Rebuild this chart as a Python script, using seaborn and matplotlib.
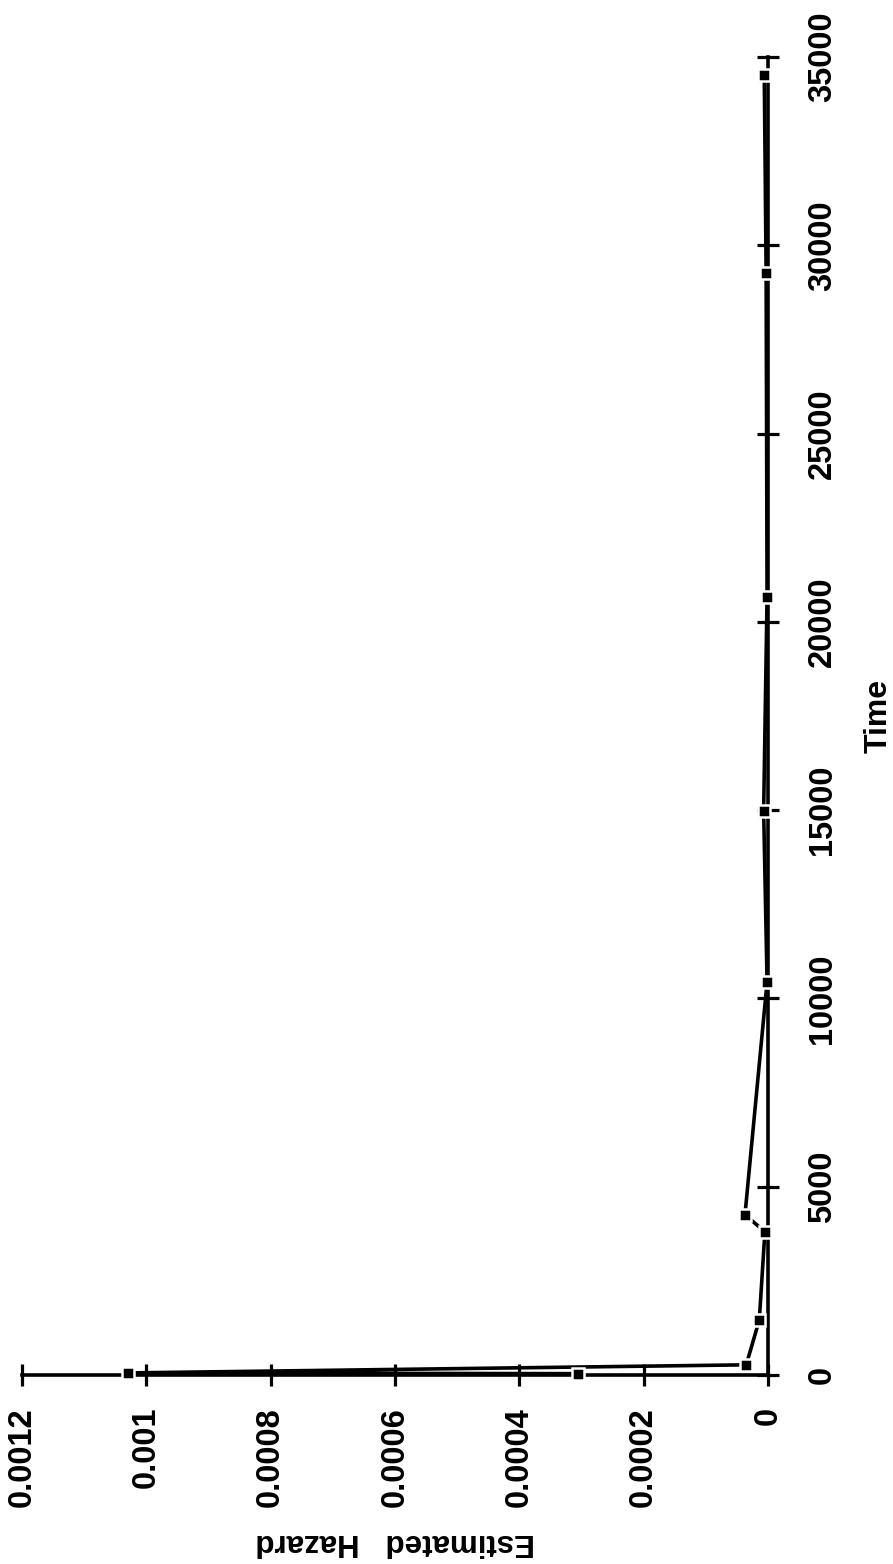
import matplotlib
matplotlib.use("Agg")
import matplotlib.pyplot as plt
import pandas as pd
import seaborn as sns

# Estimated hazard at each event time (time in order of the curve)
time = [35, 55, 270, 1460, 3800, 4260, 10430, 14980, 20665, 29255, 34520]
hazard = [0.000305, 0.00103, 0.000035, 0.000014, 0.000005, 0.000037,
          0.0000015, 0.000007, 0.0000015, 0.000003, 0.000006]

hazard_ticks = [0.0012, 0.001, 0.0008, 0.0006, 0.0004, 0.0002, 0]
hazard_tick_labels = ["0.0012", "0.001", "0.0008", "0.0006", "0.0004", "0.0002", "0"]
time_ticks = [0, 5000, 10000, 15000, 20000, 25000, 30000, 35000]
time_tick_labels = ["0", "5000", "10000", "15000", "20000", "25000", "30000", "35000"]

sns.set_style("white")
plt.rcParams["font.family"] = ["Liberation Sans", "DejaVu Sans"]

W, H = 893, 1564
fig = plt.figure(figsize=(W / 100, H / 100), dpi=100)
ax = fig.add_axes([22 / W, (H - 1375) / H, 746 / W, 1318 / H])

df = pd.DataFrame({"hazard": hazard, "time": time})
sns.lineplot(data=df, x="hazard", y="time", sort=False, estimator=None,
             color="black", lw=2.6, marker="s", markersize=8.5,
             markeredgecolor="white", markeredgewidth=1.8,
             ax=ax, zorder=3, clip_on=False)

# Landscape plot turned on its side: hazard runs right-to-left, time runs up
ax.set_xlim(0.0012, 0)
ax.set_ylim(0, 35000)
for s in ("top", "left"):
    ax.spines[s].set_visible(False)
for s in ("bottom", "right"):
    ax.spines[s].set_linewidth(2.6)
    ax.spines[s].set_color("black")

ax.xaxis.set_ticks_position("bottom")
ax.yaxis.set_ticks_position("right")
ax.set_xticks(hazard_ticks, hazard_tick_labels)
ax.set_yticks(time_ticks, time_tick_labels)
ax.tick_params(axis="both", direction="inout", length=16, width=2.3,
               color="black", labelsize=23.5, labelcolor="black")
ax.tick_params(axis="x", pad=15)
ax.tick_params(axis="y", pad=20)
for lab in ax.get_xticklabels():
    lab.set_rotation(90)
    lab.set_fontweight("bold")
for lab in ax.get_yticklabels():
    lab.set_rotation(90)
    lab.set_va("center")
    lab.set_fontweight("bold")

ax.set_xlabel("Estimated   Hazard", rotation=180, fontsize=22.5,
              fontweight="bold", color="black")
ax.xaxis.label.set_va("center")
ax.xaxis.set_label_coords(0.5, -0.1265)

ax.yaxis.set_label_position("right")
ax.set_ylabel("Time", rotation=90, fontsize=23, fontweight="bold", color="black")
ax.yaxis.label.set_va("center")
ax.yaxis.label.set_ha("center")
ax.yaxis.set_label_coords(1.148, 0.5)

fig.savefig("out.png", dpi=100, facecolor="white")
